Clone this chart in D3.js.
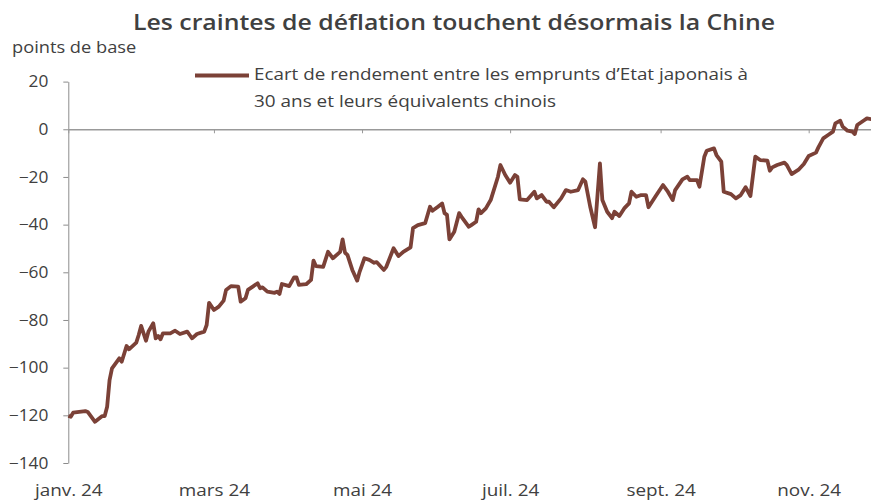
<!DOCTYPE html>
<html>
<head>
<meta charset="utf-8">
<script src="https://cdn.jsdelivr.net/npm/d3@7"></script>
<style>
  body { margin: 0; background: #fff; }
  text { font-family: "Open Sans", sans-serif; fill: #404040; }
</style>
</head>
<body>
<div id="chart"></div>
<script>
// Data: spread between 30y Japanese and Chinese government bond yields (bp)
const dates = [
  "2024-01-01","2024-01-02","2024-01-03","2024-01-08","2024-01-09","2024-01-12","2024-01-15","2024-01-16",
  "2024-01-17","2024-01-18","2024-01-19","2024-01-22","2024-01-23","2024-01-25","2024-01-26","2024-01-29",
  "2024-01-30","2024-01-31","2024-02-02","2024-02-03","2024-02-05","2024-02-06","2024-02-07","2024-02-08",
  "2024-02-09","2024-02-12","2024-02-14","2024-02-16","2024-02-19","2024-02-20","2024-02-21","2024-02-23",
  "2024-02-26","2024-02-27","2024-02-28","2024-03-01","2024-03-03","2024-03-05","2024-03-06","2024-03-08",
  "2024-03-11","2024-03-12","2024-03-14","2024-03-15","2024-03-17","2024-03-19","2024-03-20","2024-03-21",
  "2024-03-23","2024-03-26","2024-03-27","2024-03-28","2024-03-29","2024-04-01","2024-04-03","2024-04-04",
  "2024-04-05","2024-04-08","2024-04-10","2024-04-11","2024-04-12","2024-04-15","2024-04-17","2024-04-19",
  "2024-04-22","2024-04-23","2024-04-24","2024-04-25","2024-04-27","2024-04-29","2024-04-30","2024-05-02",
  "2024-05-04","2024-05-06","2024-05-07","2024-05-10","2024-05-11","2024-05-14","2024-05-16","2024-05-18",
  "2024-05-21","2024-05-22","2024-05-24","2024-05-27","2024-05-29","2024-05-30","2024-06-01","2024-06-03",
  "2024-06-04","2024-06-05","2024-06-06","2024-06-08","2024-06-10","2024-06-11","2024-06-14","2024-06-15",
  "2024-06-17","2024-06-18","2024-06-19","2024-06-21","2024-06-23","2024-06-26","2024-06-27","2024-06-29",
  "2024-07-01","2024-07-03","2024-07-04","2024-07-05","2024-07-08","2024-07-11","2024-07-12","2024-07-14",
  "2024-07-16","2024-07-17","2024-07-19","2024-07-22","2024-07-24","2024-07-26","2024-07-29","2024-07-31",
  "2024-08-01","2024-08-03","2024-08-05","2024-08-07","2024-08-08","2024-08-10","2024-08-12","2024-08-13",
  "2024-08-15","2024-08-17","2024-08-19","2024-08-20","2024-08-22","2024-08-24","2024-08-26","2024-08-27",
  "2024-08-30","2024-09-02","2024-09-04","2024-09-06","2024-09-07","2024-09-10","2024-09-12","2024-09-13",
  "2024-09-16","2024-09-17","2024-09-19","2024-09-20","2024-09-23","2024-09-24","2024-09-26","2024-09-27",
  "2024-09-30","2024-10-02","2024-10-04","2024-10-06","2024-10-08","2024-10-10","2024-10-12","2024-10-15",
  "2024-10-16","2024-10-17","2024-10-19","2024-10-22","2024-10-23","2024-10-25","2024-10-28","2024-10-30",
  "2024-11-01","2024-11-04","2024-11-05","2024-11-07","2024-11-09","2024-11-11","2024-11-12","2024-11-14",
  "2024-11-15","2024-11-17","2024-11-19","2024-11-20","2024-11-21","2024-11-24","2024-11-25","2024-11-27"
];
const values = [
  -120.3,-120.6,-118.9,-118.2,-118.6,-122.7,-120.3,-120.3,
  -116.4,-105.2,-100.3,-96.1,-97.5,-90.9,-92.3,-89.5,
  -86.3,-82.5,-88.7,-84.9,-81.4,-87.7,-86.7,-88.1,
  -85.6,-85.6,-84.5,-85.9,-84.9,-86.3,-87.7,-85.9,
  -84.9,-82.1,-72.8,-75.8,-74.4,-71.9,-67.4,-65.8,
  -66.0,-72.3,-70.9,-67.4,-66.0,-64.6,-66.7,-66.3,
  -68.1,-68.6,-68.1,-69.1,-64.9,-65.8,-62.1,-62.1,
  -65.3,-65.0,-63.2,-55.1,-57.4,-57.7,-51.4,-54.1,
  -51.4,-46.2,-51.8,-52.7,-59.0,-63.5,-59.8,-54.1,
  -54.8,-56.0,-55.7,-59.0,-57.7,-49.9,-53.2,-51.4,
  -49.5,-41.5,-40.2,-39.4,-32.5,-34.2,-32.7,-31.1,
  -35.2,-35.9,-46.2,-43.0,-35.2,-36.7,-40.9,-40.2,
  -38.8,-33.6,-35.2,-33.2,-29.7,-19.9,-15.0,-19.2,
  -22.4,-19.2,-19.9,-29.4,-29.7,-26.2,-29.0,-27.6,
  -30.4,-30.4,-32.7,-29.0,-25.5,-26.2,-25.5,-21.0,
  -22.0,-32.5,-41.1,-14.3,-29.7,-34.6,-37.3,-34.6,
  -36.4,-33.2,-31.1,-26.2,-28.3,-27.6,-27.6,-32.7,
  -28.0,-23.4,-26.2,-29.7,-25.5,-21.0,-19.9,-21.3,
  -21.3,-24.1,-11.5,-9.0,-8.0,-10.8,-13.6,-26.2,
  -27.2,-29.0,-27.6,-24.3,-28.0,-11.5,-12.9,-13.2,
  -17.4,-16.0,-15.0,-14.0,-15.0,-18.8,-16.8,-14.6,
  -11.2,-9.8,-7.6,-3.8,-2.4,-1.0,2.5,3.6,
  1.1,-0.6,-1.0,-2.0,1.8,3.9,4.6,4.2
];
const tickDates = ["2024-01-01","2024-03-01","2024-05-01","2024-07-01","2024-09-01","2024-11-01"];
const tickLabels = ["janv. 24","mars 24","mai 24","juil. 24","sept. 24","nov. 24"];
const yTicks = [20, 0, -20, -40, -60, -80, -100, -120, -140];

const W = 871, H = 502;
const plotLeft = 68.3, plotTop = 81.6, plotBottom = 463;
const parse = d3.timeParse("%Y-%m-%d");
const data = dates.map((d, i) => ({date: parse(d), value: values[i]}));

// the source font is wider than Open Sans, stretch the glyphs a bit
function stretch(sel, k) {
  sel.each(function() {
    const len = this.getComputedTextLength();
    d3.select(this).attr("textLength", len * k).attr("lengthAdjust", "spacingAndGlyphs");
  });
}

const svg = d3.select("#chart").append("svg")
    .attr("width", W)
    .attr("height", H);

const x = d3.scaleTime()
  .domain([parse("2024-01-01"), parse("2024-11-27")])
  .range([plotLeft, 871.8]);

const y = d3.scaleLinear()
  .domain([-140, 20])
  .range([plotBottom, plotTop]);

// Y axis
const yAxis = svg.append("g")
  .attr("transform", `translate(${plotLeft},0)`)
  .call(d3.axisLeft(y).tickValues(yTicks).tickSize(5).tickSizeOuter(0).tickPadding(15));
yAxis.select(".domain").attr("stroke", "#8c8c8c");
yAxis.selectAll(".tick line").attr("stroke", "#8c8c8c");
yAxis.selectAll("text")
  .style("font-size", "16px")
  .attr("fill", "#404040")
  .call(stretch, 1.08);

// Zero line with small ticks
const zeroAxis = svg.append("g")
  .attr("transform", `translate(0,${y(0)})`)
  .call(d3.axisBottom(x).tickValues(tickDates.map(parse)).tickFormat("").tickSize(4).tickSizeOuter(0));
zeroAxis.select(".domain").attr("stroke", "#999").attr("stroke-width", 1.5);
zeroAxis.selectAll(".tick line").attr("stroke", "#999");

// Month labels at the bottom
const xLab = svg.append("g")
  .attr("transform", `translate(0,${plotBottom})`)
  .call(d3.axisBottom(x).tickValues(tickDates.map(parse))
    .tickFormat((d, i) => tickLabels[i]).tickSize(0).tickPadding(22));
xLab.select(".domain").remove();
xLab.selectAll("text")
  .style("font-size", "16px")
  .attr("fill", "#404040")
  .call(stretch, 1.18);

// Series
const line = d3.line()
  .x(d => x(d.date))
  .y(d => y(d.value));

svg.append("path")
  .datum(data)
  .attr("fill", "none")
  .attr("stroke", "#7b4137")
  .attr("stroke-width", 3.8)
  .attr("stroke-linejoin", "round")
  .attr("d", line);

// Title
svg.append("text")
  .attr("x", 454)
  .attr("y", 30)
  .attr("text-anchor", "middle")
  .style("font-size", "21px")
  .style("font-weight", "600")
  .text("Les craintes de déflation touchent désormais la Chine")
  .attr("textLength", 642)
  .attr("lengthAdjust", "spacingAndGlyphs");

// Unit label
svg.append("text")
  .attr("x", 12)
  .attr("y", 53)
  .style("font-size", "16px")
  .text("points de base")
  .call(stretch, 1.14);

// Legend
svg.append("line")
  .attr("x1", 195).attr("x2", 249)
  .attr("y1", 75.5).attr("y2", 75.5)
  .attr("stroke", "#7b4137")
  .attr("stroke-width", 4);

svg.append("text")
  .attr("x", 254)
  .attr("y", 80)
  .style("font-size", "16.5px")
  .text("Ecart de rendement entre les emprunts d’Etat japonais à")
  .attr("textLength", 494)
  .attr("lengthAdjust", "spacingAndGlyphs");

svg.append("text")
  .attr("x", 254)
  .attr("y", 107)
  .style("font-size", "16.5px")
  .text("30 ans et leurs équivalents chinois")
  .attr("textLength", 302)
  .attr("lengthAdjust", "spacingAndGlyphs");
</script>
</body>
</html>
